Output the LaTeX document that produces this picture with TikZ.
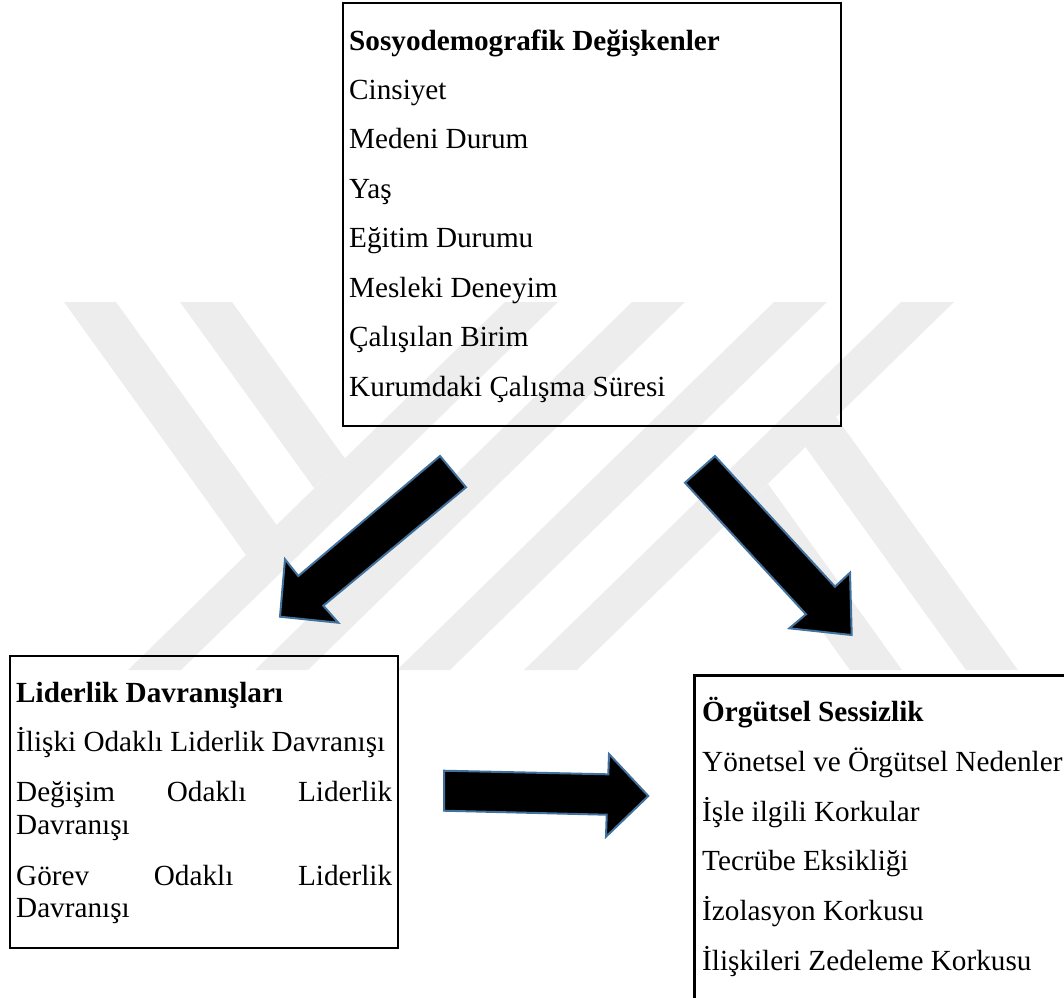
\documentclass[tikz,border=0pt]{standalone}
\usepackage{fontspec}
\setmainfont{Liberation Serif}
\usepackage{tikz}
\definecolor{kenar}{HTML}{41719C}
\definecolor{filigran}{HTML}{EDEDED}

\begin{document}
\begin{tikzpicture}[x=1pt,y=-1pt,
  kutu/.style={draw,line width=2.4pt,inner sep=0pt,anchor=north west},
  satir/.style={anchor=base west,inner sep=0pt,font=\fontsize{29.2}{35}\selectfont},
  baslik/.style={satir,font=\fontsize{29.2}{35}\selectfont\bfseries},
  blok/.style={fill=black,draw=kenar,line width=2pt,line join=miter},
  iz/.style={fill=filigran}]
  \useasboundingbox (0,0) rectangle (1064,997);
  \clip (0,0) rectangle (1064,997);

  % filigran
  \fill[iz] (505,302) -- (558,302) -- (181,670) -- (128,670) -- cycle;
  \fill[iz] (632,302) -- (685,302) -- (308,670) -- (255,670) -- cycle;
  \fill[iz] (774,302) -- (827,302) -- (450,670) -- (397,670) -- cycle;
  \fill[iz] (901,302) -- (954,302) -- (577,670) -- (524,670) -- cycle;
  \fill[iz] (180,302) -- (232,302) -- (345,458.5) -- (314,488) -- cycle;
  \fill[iz] (64,302) -- (116,302) -- (276.6,525) -- (246,555) -- cycle;
  \fill[iz] (902,670) -- (850,670) -- (737,513.5) -- (768,484) -- cycle;
  \fill[iz] (1018,670) -- (966,670) -- (805.4,447) -- (836,417) -- cycle;

  % kutular
  \node[kutu,minimum width=498.5pt,minimum height=423pt] (sosyo) at (341.5,2) {};
  \node[kutu,minimum width=388pt,minimum height=291.7pt] (lider) at (9,655) {};
  \node[kutu,minimum width=420pt,minimum height=360pt] (orgut) at (693.3,674.3) {};

  \node[baslik] (sdbaslik) at (349,50) {Sosyodemografik Değişkenler};
  \foreach \t [count=\c] in {Cinsiyet, Medeni Durum, Yaş, Eğitim Durumu,
      Mesleki Deneyim, Çalışılan Birim, Kurumdaki Çalışma Süresi}{
    \node[satir] (sd\c) at (349,{50+\c*49.43}) {\t};
  }

  \node[baslik] (ldbaslik) at (16,702.7) {Liderlik Davranışları};
  \node[satir] (ld1) at (16,751) {İlişki Odaklı Liderlik Davranışı};
  \node[satir] (ld2) at (16,801.7) {\makebox[376pt]{Değişim\hfill Odaklı\hfill Liderlik}};
  \node[satir] (ld2b) at (16,834.3) {Davranışı};
  \node[satir] (ld3) at (16,885) {\makebox[376pt]{Görev\hfill Odaklı\hfill Liderlik}};
  \node[satir] (ld3b) at (16,917.7) {Davranışı};

  \node[baslik] (osbaslik) at (702,721.7) {Örgütsel Sessizlik};
  \foreach \t [count=\c] in {Yönetsel ve Örgütsel Nedenler, İşle ilgili Korkular,
      Tecrübe Eksikliği, İzolasyon Korkusu, İlişkileri Zedeleme Korkusu}{
    \node[satir] (os\c) at (702,{721.7+\c*49.66}) {\t};
  }

  % oklar
  \draw[blok] (440,456) -- (466,487.3) -- (323.3,605.7) -- (338.3,622.7)
    -- (280,616.7) -- (285,559.3) -- (298.3,576) -- cycle;
  \draw[blok] (715,456) -- (685,482.7) -- (806,614.3) -- (789.3,628.3)
    -- (851.7,635) -- (850,572.7) -- (835,586.7) -- cycle;
  \draw[blok] (444,770.7) -- (608.3,774.3) -- (609,754) -- (648.3,796)
    -- (606,836.7) -- (606.7,814.7) -- (444,810.7) -- cycle;
\end{tikzpicture}
\end{document}
